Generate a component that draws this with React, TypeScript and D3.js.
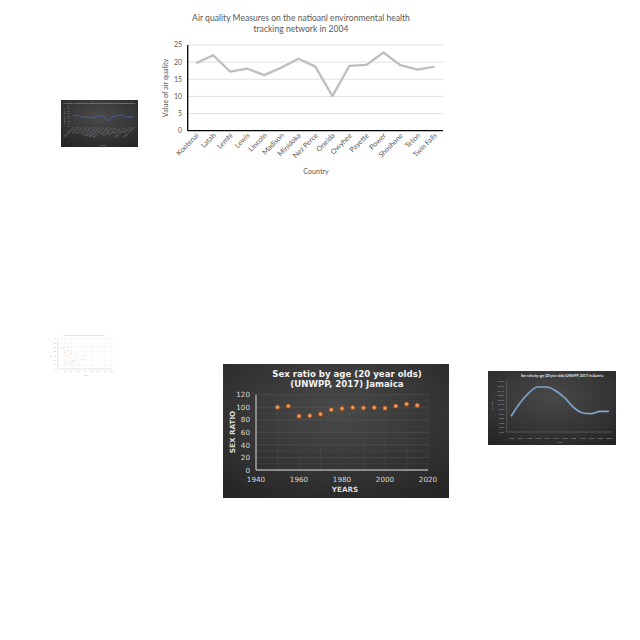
import React from 'react';
import * as d3 from 'd3';

// air quality by county (main chart + dark thumbnail)
const counties = ['Kootenai', 'Latah', 'Lemhi', 'Lewis', 'Lincoln', 'Madison', 'Minidoka', 'Nez Perce', 'Oneida', 'Owyhee', 'Payette', 'Power', 'Shoshone', 'Teton', 'Twin Falls'];
const airQuality = [19.7, 22.0, 17.2, 18.1, 16.2, 18.4, 21.0, 18.7, 10.1, 18.9, 19.2, 22.8, 19.1, 17.8, 18.7];
const airTicks = [0, 5, 10, 15, 20, 25];

// Jamaica sex ratio
const jmYears = [1950, 1955, 1960, 1965, 1970, 1975, 1980, 1985, 1990, 1995, 2000, 2005, 2010, 2015];
const jmRatio = [100, 102, 86, 86.5, 89, 96, 98, 99.5, 99, 99.5, 98.5, 102, 105, 103];
const jmYTicks = [0, 20, 40, 60, 80, 100, 120];
const jmXTicks = [1940, 1960, 1980, 2000, 2020];

// Austria sex ratio thumbnail
const atYears = ['1950', '1955', '1960', '1965', '1970', '1975', '1980', '1985', '1990', '1995', '2000', '2005'];
const atRatio = [98.4, 101.3, 103.5, 104.8, 104.8, 104.0, 102.5, 100.4, 99.2, 99.0, 99.5, 99.5];
const atTicks = [95, 96, 97, 98, 99, 100, 101, 102, 103, 104, 105, 106];

// faint scatter thumbnail
const scX = [8, 10, 14, 13, 16, 20, 22, 24, 18, 12, 36, 28, 30, 15];
const scY = [95, 75, 85, 60, 50, 70, 35, 40, 25, 30, 45, 55, 20, 100];
const scXTicks = [0, 10, 20, 30, 40, 50, 60, 70, 80];
const scYTicks = [0, 20, 40, 60, 80, 100, 120, 140];

const calibri = 'Lato, "Open Sans", sans-serif';
const verdana = '"DejaVu Sans", Verdana, sans-serif';

function AirChart() {
  const x = d3.scalePoint<string>().domain(counties).range([187.7, 443]).padding(0.5);
  const y = d3.scaleLinear().domain([0, 25]).range([130.7, 45]);
  const line = d3.line<number>().x((_, i) => x(counties[i])!).y(d => y(d));
  return (
    <g fontFamily={calibri}>
      <text x={301} y={21} textAnchor="middle" fontSize={8.6} fill="#595959">Air quality Measures on the natioanl environmental health</text>
      <text x={301} y={31.5} textAnchor="middle" fontSize={8.6} fill="#595959">tracking network in 2004</text>
      {airTicks.map(t => (
        <g key={t}>
          {t > 0 && <line x1={187.7} x2={443} y1={y(t)} y2={y(t)} stroke="#d9d9d9" strokeWidth={0.8} />}
          <text x={182} y={y(t) + 2.4} textAnchor="end" fontSize={7} fill="#595959">{t}</text>
        </g>
      ))}
      <line x1={187.7} x2={187.7} y1={y(25)} y2={y(0)} stroke="#000" strokeWidth={1.3} />
      <line x1={187.7} x2={443} y1={y(0)} y2={y(0)} stroke="#000" strokeWidth={1.3} />
      <path d={line(airQuality)!} fill="none" stroke="#bfbfbf" strokeWidth={2.3} strokeLinejoin="round" />
      {counties.map(c => (
        <text key={c} transform={`translate(${x(c)! + 3},${136}) rotate(-45)`} textAnchor="end" fontSize={7.2} fill="#595959">{c}</text>
      ))}
      <text transform="translate(168,88) rotate(-90)" textAnchor="middle" fontSize={7.2} fill="#595959">Value of air quality</text>
      <text x={316} y={174} textAnchor="middle" fontSize={7.2} fill="#595959">Country</text>
    </g>
  );
}

function DarkAirThumb() {
  const x = d3.scalePoint<string>().domain(counties).range([71, 136]).padding(0.5);
  const y = d3.scaleLinear().domain([0, 40]).range([126, 106]);
  const line = d3.line<number>().x((_, i) => x(counties[i])!).y(d => y(d));
  return (
    <g fontFamily={calibri}>
      <rect x={61} y={100} width={77} height={47} fill="url(#darkBg)" />
      <text x={99} y={103.6} textAnchor="middle" fontSize={2.2} fill="#bfbfbf">Air quality Measures on the natioanl environmental health tracking network</text>
      {d3.range(0, 45, 5).map(t => (
        <g key={t}>
          <line x1={71} x2={136} y1={y(t)} y2={y(t)} stroke="#4a4a4a" strokeWidth={0.3} />
          <text x={69.5} y={y(t) + 0.7} textAnchor="end" fontSize={2} fill="#9a9a9a">{t}</text>
        </g>
      ))}
      <path d={line(airQuality)!} fill="none" stroke="#4a64b0" strokeWidth={0.8} />
      {counties.map(c => (
        <text key={c} transform={`translate(${x(c)! + 1},${128}) rotate(-45)`} textAnchor="end" fontSize={3.4} fill="#7f7f7f">{c}</text>
      ))}
      <text x={103} y={145.5} textAnchor="middle" fontSize={2} fill="#9a9a9a">Country</text>
      <text transform="translate(64.5,117) rotate(-90)" textAnchor="middle" fontSize={2} fill="#9a9a9a">Value of air quality</text>
    </g>
  );
}

function ScatterThumb() {
  const x = d3.scaleLinear().domain([0, 80]).range([57.7, 112]);
  const y = d3.scaleLinear().domain([0, 140]).range([369, 338.5]);
  return (
    <g fontFamily={calibri}>
      <text x={84} y={335.5} textAnchor="middle" fontSize={2} fill="#b0b0b0">Sex ratio by age (20 year olds) (UNWPP, 2017)</text>
      {scYTicks.map(t => (
        <g key={t}>
          <line x1={57.7} x2={112} y1={y(t)} y2={y(t)} stroke="#ececec" strokeWidth={0.3} />
          <text x={56} y={y(t) + 0.7} textAnchor="end" fontSize={2} fill="#b5b5b5">{t}</text>
        </g>
      ))}
      {scXTicks.map(t => (
        <g key={t}>
          <line x1={x(t)} x2={x(t)} y1={338.5} y2={369} stroke="#ececec" strokeWidth={0.3} />
          <text x={x(t)} y={371.5} textAnchor="middle" fontSize={2} fill="#b5b5b5">{t}</text>
        </g>
      ))}
      <line x1={57.7} x2={57.7} y1={338.5} y2={369} stroke="#c8c8c8" strokeWidth={0.4} />
      <line x1={57.7} x2={112} y1={369} y2={369} stroke="#c8c8c8" strokeWidth={0.4} />
      {scX.map((v, i) => (
        <circle key={i} cx={x(v)} cy={y(scY[i])} r={0.7} fill="#f3d3b8" />
      ))}
      <text x={85} y={375.5} textAnchor="middle" fontSize={2} fill="#b5b5b5">Years</text>
      <text transform="translate(51,354) rotate(-90)" textAnchor="middle" fontSize={2} fill="#b5b5b5">Sex ratio</text>
    </g>
  );
}

function JamaicaChart() {
  const x = d3.scaleLinear().domain([1940, 2020]).range([256, 428]);
  const y = d3.scaleLinear().domain([0, 120]).range([470, 394.7]);
  return (
    <g fontFamily={verdana}>
      <rect x={223} y={364} width={226} height={134} fill="url(#darkBg)" />
      <text x={347} y={377} textAnchor="middle" fontSize={8.6} fontWeight="bold" fill="#f2f2f2">Sex ratio by age (20 year olds)</text>
      <text x={347} y={386.5} textAnchor="middle" fontSize={8.6} fontWeight="bold" fill="#f2f2f2">(UNWPP, 2017) Jamaica</text>
      {d3.range(0, 130, 10).map(t => (
        <line key={'h' + t} x1={256} x2={428} y1={y(t)} y2={y(t)} stroke={t % 20 === 0 ? '#5c5c5c' : '#4a4a4a'} strokeWidth={0.5} />
      ))}
      {d3.range(1950, 2030, 10).map(t => (
        <line key={'v' + t} x1={x(t)} x2={x(t)} y1={y(120)} y2={y(0)} stroke="#4a4a4a" strokeWidth={0.5} />
      ))}
      {jmYTicks.map(t => (
        <text key={t} x={250} y={y(t) + 2.6} textAnchor="end" fontSize={7.2} fill="#d9d9d9">{t}</text>
      ))}
      {jmXTicks.map(t => (
        <text key={t} x={x(t)} y={482} textAnchor="middle" fontSize={7.2} fill="#d9d9d9">{t}</text>
      ))}
      <line x1={256} x2={256} y1={y(120)} y2={y(0)} stroke="#d9d9d9" strokeWidth={1} />
      <line x1={256} x2={428} y1={y(0)} y2={y(0)} stroke="#d9d9d9" strokeWidth={1} />
      {jmYears.map((yr, i) => (
        <circle key={yr} cx={x(yr)} cy={y(jmRatio[i])} r={2.6} fill="url(#dotFill)" />
      ))}
      <text x={345} y={492} textAnchor="middle" fontSize={7.2} fontWeight="bold" fill="#d9d9d9">YEARS</text>
      <text transform="translate(234.5,432) rotate(-90)" textAnchor="middle" fontSize={7.2} fontWeight="bold" fill="#d9d9d9">SEX RATIO</text>
    </g>
  );
}

function AustriaThumb() {
  const x = d3.scalePoint<string>().domain(atYears).range([511, 609]);
  const y = d3.scaleLinear().domain([95, 106]).range([432, 381.5]);
  const line = d3.line<number>().x((_, i) => x(atYears[i])!).y(d => y(d)).curve(d3.curveMonotoneX);
  return (
    <g fontFamily={calibri}>
      <rect x={488} y={371} width={128} height={74} fill="url(#darkBg)" />
      <text x={562} y={376.5} textAnchor="middle" fontSize={3.3} fontWeight="bold" fill="#e6e6e6">Sex ratio by age (20 year olds) (UNWPP, 2017) in Austria</text>
      {atTicks.map(t => (
        <g key={t}>
          <line x1={506.7} x2={612} y1={y(t)} y2={y(t)} stroke="#474747" strokeWidth={0.3} />
          <text x={504} y={y(t) + 0.9} textAnchor="end" fontSize={2.6} fill="#a6a6a6">{t.toFixed(1)}</text>
        </g>
      ))}
      <line x1={506.7} x2={506.7} y1={381.5} y2={432} stroke="#8c8c8c" strokeWidth={0.4} />
      <line x1={506.7} x2={612} y1={432} y2={432} stroke="#8c8c8c" strokeWidth={0.4} />
      {atYears.map(t => (
        <text key={t} x={x(t)} y={438.5} textAnchor="middle" fontSize={2.6} fill="#a6a6a6">{t}</text>
      ))}
      <path d={line(atRatio)!} fill="none" stroke="#9dc3e6" strokeWidth={2.2} opacity={0.35} />
      <path d={line(atRatio)!} fill="none" stroke="#7fa9d8" strokeWidth={1.1} />
      <text x={560} y={442.5} textAnchor="middle" fontSize={2.4} fill="#a6a6a6">Years</text>
      <text transform="translate(493,406) rotate(-90)" textAnchor="middle" fontSize={2.4} fill="#a6a6a6">Sex ratio</text>
    </g>
  );
}

export default function App() {
  return (
    <svg width={640} height={640} viewBox="0 0 640 640" style={{ position: 'absolute', left: 0, top: 0, background: '#fff' }}>
      <defs>
        <radialGradient id="darkBg" cx="50%" cy="35%" r="75%">
          <stop offset="0%" stopColor="#4a4a4a" />
          <stop offset="100%" stopColor="#262626" />
        </radialGradient>
        <radialGradient id="dotFill" cx="50%" cy="50%" r="50%">
          <stop offset="0%" stopColor="#f8cbad" />
          <stop offset="55%" stopColor="#d47a3c" />
          <stop offset="100%" stopColor="#8a3f10" />
        </radialGradient>
      </defs>
      <rect width={640} height={640} fill="#fff" />
      <AirChart />
      <DarkAirThumb />
      <ScatterThumb />
      <JamaicaChart />
      <AustriaThumb />
    </svg>
  );
}
